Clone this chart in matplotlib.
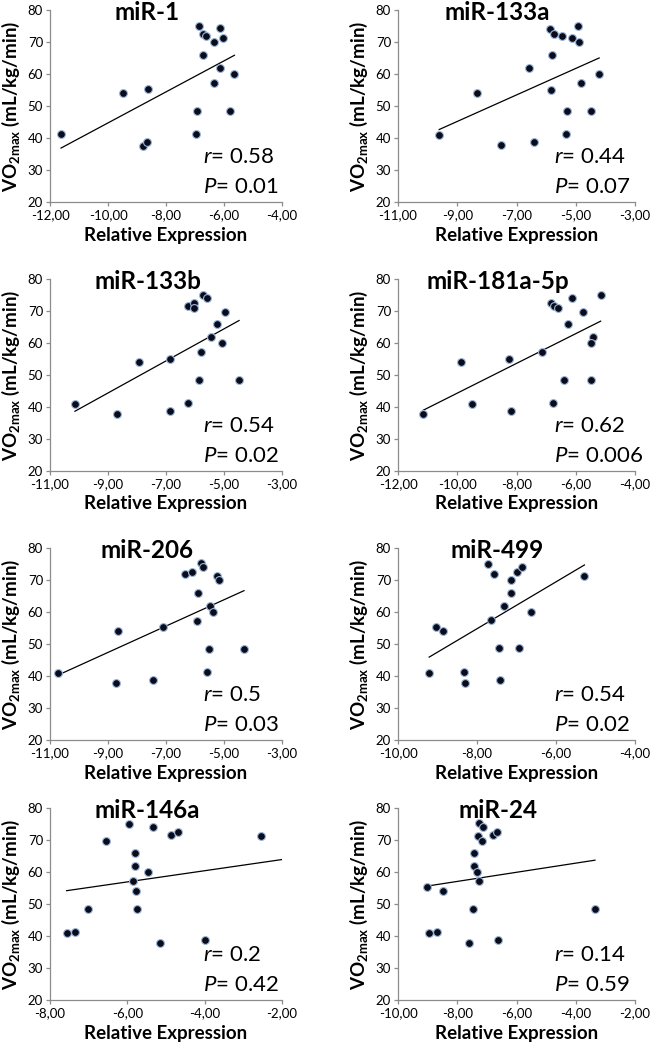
import numpy as np
import matplotlib
matplotlib.use("Agg")
import matplotlib.pyplot as plt
from matplotlib.ticker import FuncFormatter, MultipleLocator

plt.rcParams['font.family'] = ['Lato', 'DejaVu Sans']
plt.rcParams['mathtext.fontset'] = 'custom'
plt.rcParams['mathtext.rm'] = 'Lato'
plt.rcParams['mathtext.it'] = 'Lato:italic'
plt.rcParams['mathtext.bf'] = 'Lato:bold'

# panel names and stats
names = ['miR-1', 'miR-133a', 'miR-133b', 'miR-181a-5p',
         'miR-206', 'miR-499', 'miR-146a', 'miR-24']
r_vals = ['0.58', '0.44', '0.54', '0.62', '0.5', '0.54', '0.2', '0.14']
p_vals = ['0.01', '0.07', '0.02', '0.006', '0.03', '0.02', '0.42', '0.59']
xlims = [(-12, -4), (-11, -3), (-11, -3), (-12, -4),
         (-11, -3), (-10, -4), (-8, -2), (-10, -2)]

# relative expression (x) and VO2max (y)
x_mir1 = [-11.62, -9.49, -8.61, -8.81, -8.65, -6.86, -6.73, -6.61, -6.72,
          -6.13, -6.04, -6.34, -6.15, -6.36, -5.64, -6.94, -5.80, -6.98]
y_mir1 = [41.1, 54.1, 55.2, 37.6, 38.8, 75.1, 72.4, 71.9, 66.0,
          74.3, 71.1, 69.9, 61.9, 57.2, 60.1, 48.5, 48.5, 41.2]

x_mir133a = [-9.61, -8.35, -7.53, -6.40, -6.57, -5.86, -5.72, -5.79, -5.84,
             -5.45, -5.13, -4.92, -4.88, -4.83, -4.21, -5.29, -4.47, -5.33]
y_mir133a = [40.9, 54.1, 37.7, 38.8, 62.0, 74.2, 72.4, 66.0, 55.1,
             71.9, 71.1, 75.0, 69.9, 57.2, 60.0, 48.4, 48.4, 41.2]

x_mir133b = [-10.14, -8.70, -7.92, -6.86, -6.87, -6.25, -6.03, -6.02, -5.71,
             -5.58, -4.95, -5.23, -5.46, -5.07, -5.79, -5.86, -4.48, -6.23]
y_mir133b = [41.0, 37.8, 54.2, 55.0, 38.8, 71.6, 72.5, 70.9, 75.0,
             74.0, 69.8, 65.9, 61.9, 59.9, 57.2, 48.4, 48.4, 41.3]

x_mir181 = [-11.15, -9.86, -9.49, -8.25, -8.17, -7.13, -6.84, -6.74, -6.61,
            -6.78, -6.39, -6.27, -6.13, -5.77, -5.49, -5.43, -5.50, -5.16]
y_mir181 = [37.8, 54.2, 41.0, 55.0, 38.8, 57.2, 72.4, 71.7, 70.9,
            41.2, 48.4, 65.9, 74.0, 69.8, 48.4, 61.9, 59.9, 75.0]

x_mir206 = [-10.71, -8.74, -8.66, -7.46, -7.09, -6.33, -6.10, -5.78, -5.72,
            -5.89, -5.93, -5.49, -5.37, -5.25, -5.17, -5.53, -4.31, -5.58]
y_mir206 = [41.0, 37.8, 54.2, 38.9, 55.3, 71.8, 72.5, 75.2, 74.2,
            66.0, 57.3, 62.0, 60.0, 71.2, 69.9, 48.5, 48.5, 41.3]

x_mir499 = [-9.21, -9.03, -8.85, -8.34, -8.31, -7.72, -7.57, -7.64, -7.45,
            -7.42, -7.32, -7.13, -7.14, -7.00, -6.87, -6.94, -6.63, -5.28]
y_mir499 = [41.0, 55.3, 54.2, 41.4, 37.8, 75.1, 71.8, 57.4, 48.6,
            38.9, 62.0, 66.0, 69.9, 72.4, 74.1, 48.6, 59.9, 71.2]

# last subject sits past the -2 axis limit (clipped, only the trend line shows it)
x_mir146a = [-7.57, -7.35, -7.02, -6.56, -5.95, -5.81, -5.80, -5.85, -5.77,
             -5.75, -5.46, -5.34, -5.16, -4.88, -4.70, -4.00, -2.54, -1.15]
y_mir146a = [40.9, 41.2, 48.4, 69.8, 75.0, 66.0, 61.9, 57.3, 54.2,
             48.5, 59.9, 74.1, 37.8, 71.6, 72.4, 38.8, 71.1, 55.2]

x_mir24 = [-9.02, -8.94, -8.69, -8.48, -7.62, -7.47, -7.44, -7.42, -7.34,
           -7.28, -7.26, -7.14, -7.30, -7.17, -6.81, -6.66, -6.62, -3.35]
y_mir24 = [55.2, 40.9, 41.2, 54.1, 37.7, 48.5, 66.0, 61.9, 59.9,
           57.3, 75.2, 74.1, 71.1, 69.8, 71.6, 72.4, 38.8, 48.4]

xs = [x_mir1, x_mir133a, x_mir133b, x_mir181, x_mir206, x_mir499, x_mir146a, x_mir24]
ys = [y_mir1, y_mir133a, y_mir133b, y_mir181, y_mir206, y_mir499, y_mir146a, y_mir24]

fig = plt.figure(figsize=(6.5, 10.45), dpi=100)
W, H = 650.0, 1045.0
col_left = [50, 398]
col_width = [232, 237]
row_top = [10, 279, 548, 808]
row_h = 192

def comma_fmt(v, pos):
    return ('%.2f' % v).replace('.', ',')

for i in range(8):
    row, col = i // 2, i % 2
    ax = fig.add_axes([col_left[col] / W, 1 - (row_top[row] + row_h) / H,
                       col_width[col] / W, row_h / H])
    x = np.array(xs[i])
    y = np.array(ys[i])
    ax.scatter(x, y, s=32, c='#0b0b1a', edgecolors='#9ab8dc', linewidths=0.8, zorder=3)
    k, b = np.polyfit(x, y, 1)
    lx = np.array([x.min(), x.max()])
    ax.plot(lx, k * lx + b, color='black', lw=0.9, zorder=2)

    lo, hi = xlims[i]
    ax.set_xlim(lo, hi)
    ax.set_ylim(20, 80)
    ax.set_xticks(np.arange(lo, hi + 1, 2))
    ax.yaxis.set_major_locator(MultipleLocator(10))
    ax.xaxis.set_major_formatter(FuncFormatter(comma_fmt))
    for s in ['top', 'right']:
        ax.spines[s].set_visible(False)
    for s in ['left', 'bottom']:
        ax.spines[s].set_color('#8c8c8c')
        ax.spines[s].set_linewidth(0.9)
    ax.tick_params(axis='both', colors='#8c8c8c', labelcolor='black',
                   labelsize=9.5, length=3, width=0.9, pad=2)

    ax.set_xlabel('Relative Expression', fontsize=13.5, fontweight='bold', labelpad=4)
    ax.set_ylabel(r'VO$_{\mathbf{2max}}$ (mL/kg/min)', fontsize=13.5,
                  fontweight='bold', labelpad=4)

    ax.text(0.42, 0.985, names[i], transform=ax.transAxes, ha='center', va='center',
            fontsize=17.5, fontweight='bold')
    ax.text(0.66, 0.235, r'$\it{r}$= ' + r_vals[i], transform=ax.transAxes,
            ha='left', va='center', fontsize=16)
    ax.text(0.66, 0.08, r'$\it{P}$= ' + p_vals[i], transform=ax.transAxes,
            ha='left', va='center', fontsize=16)

fig.savefig('out.png', dpi=100)
